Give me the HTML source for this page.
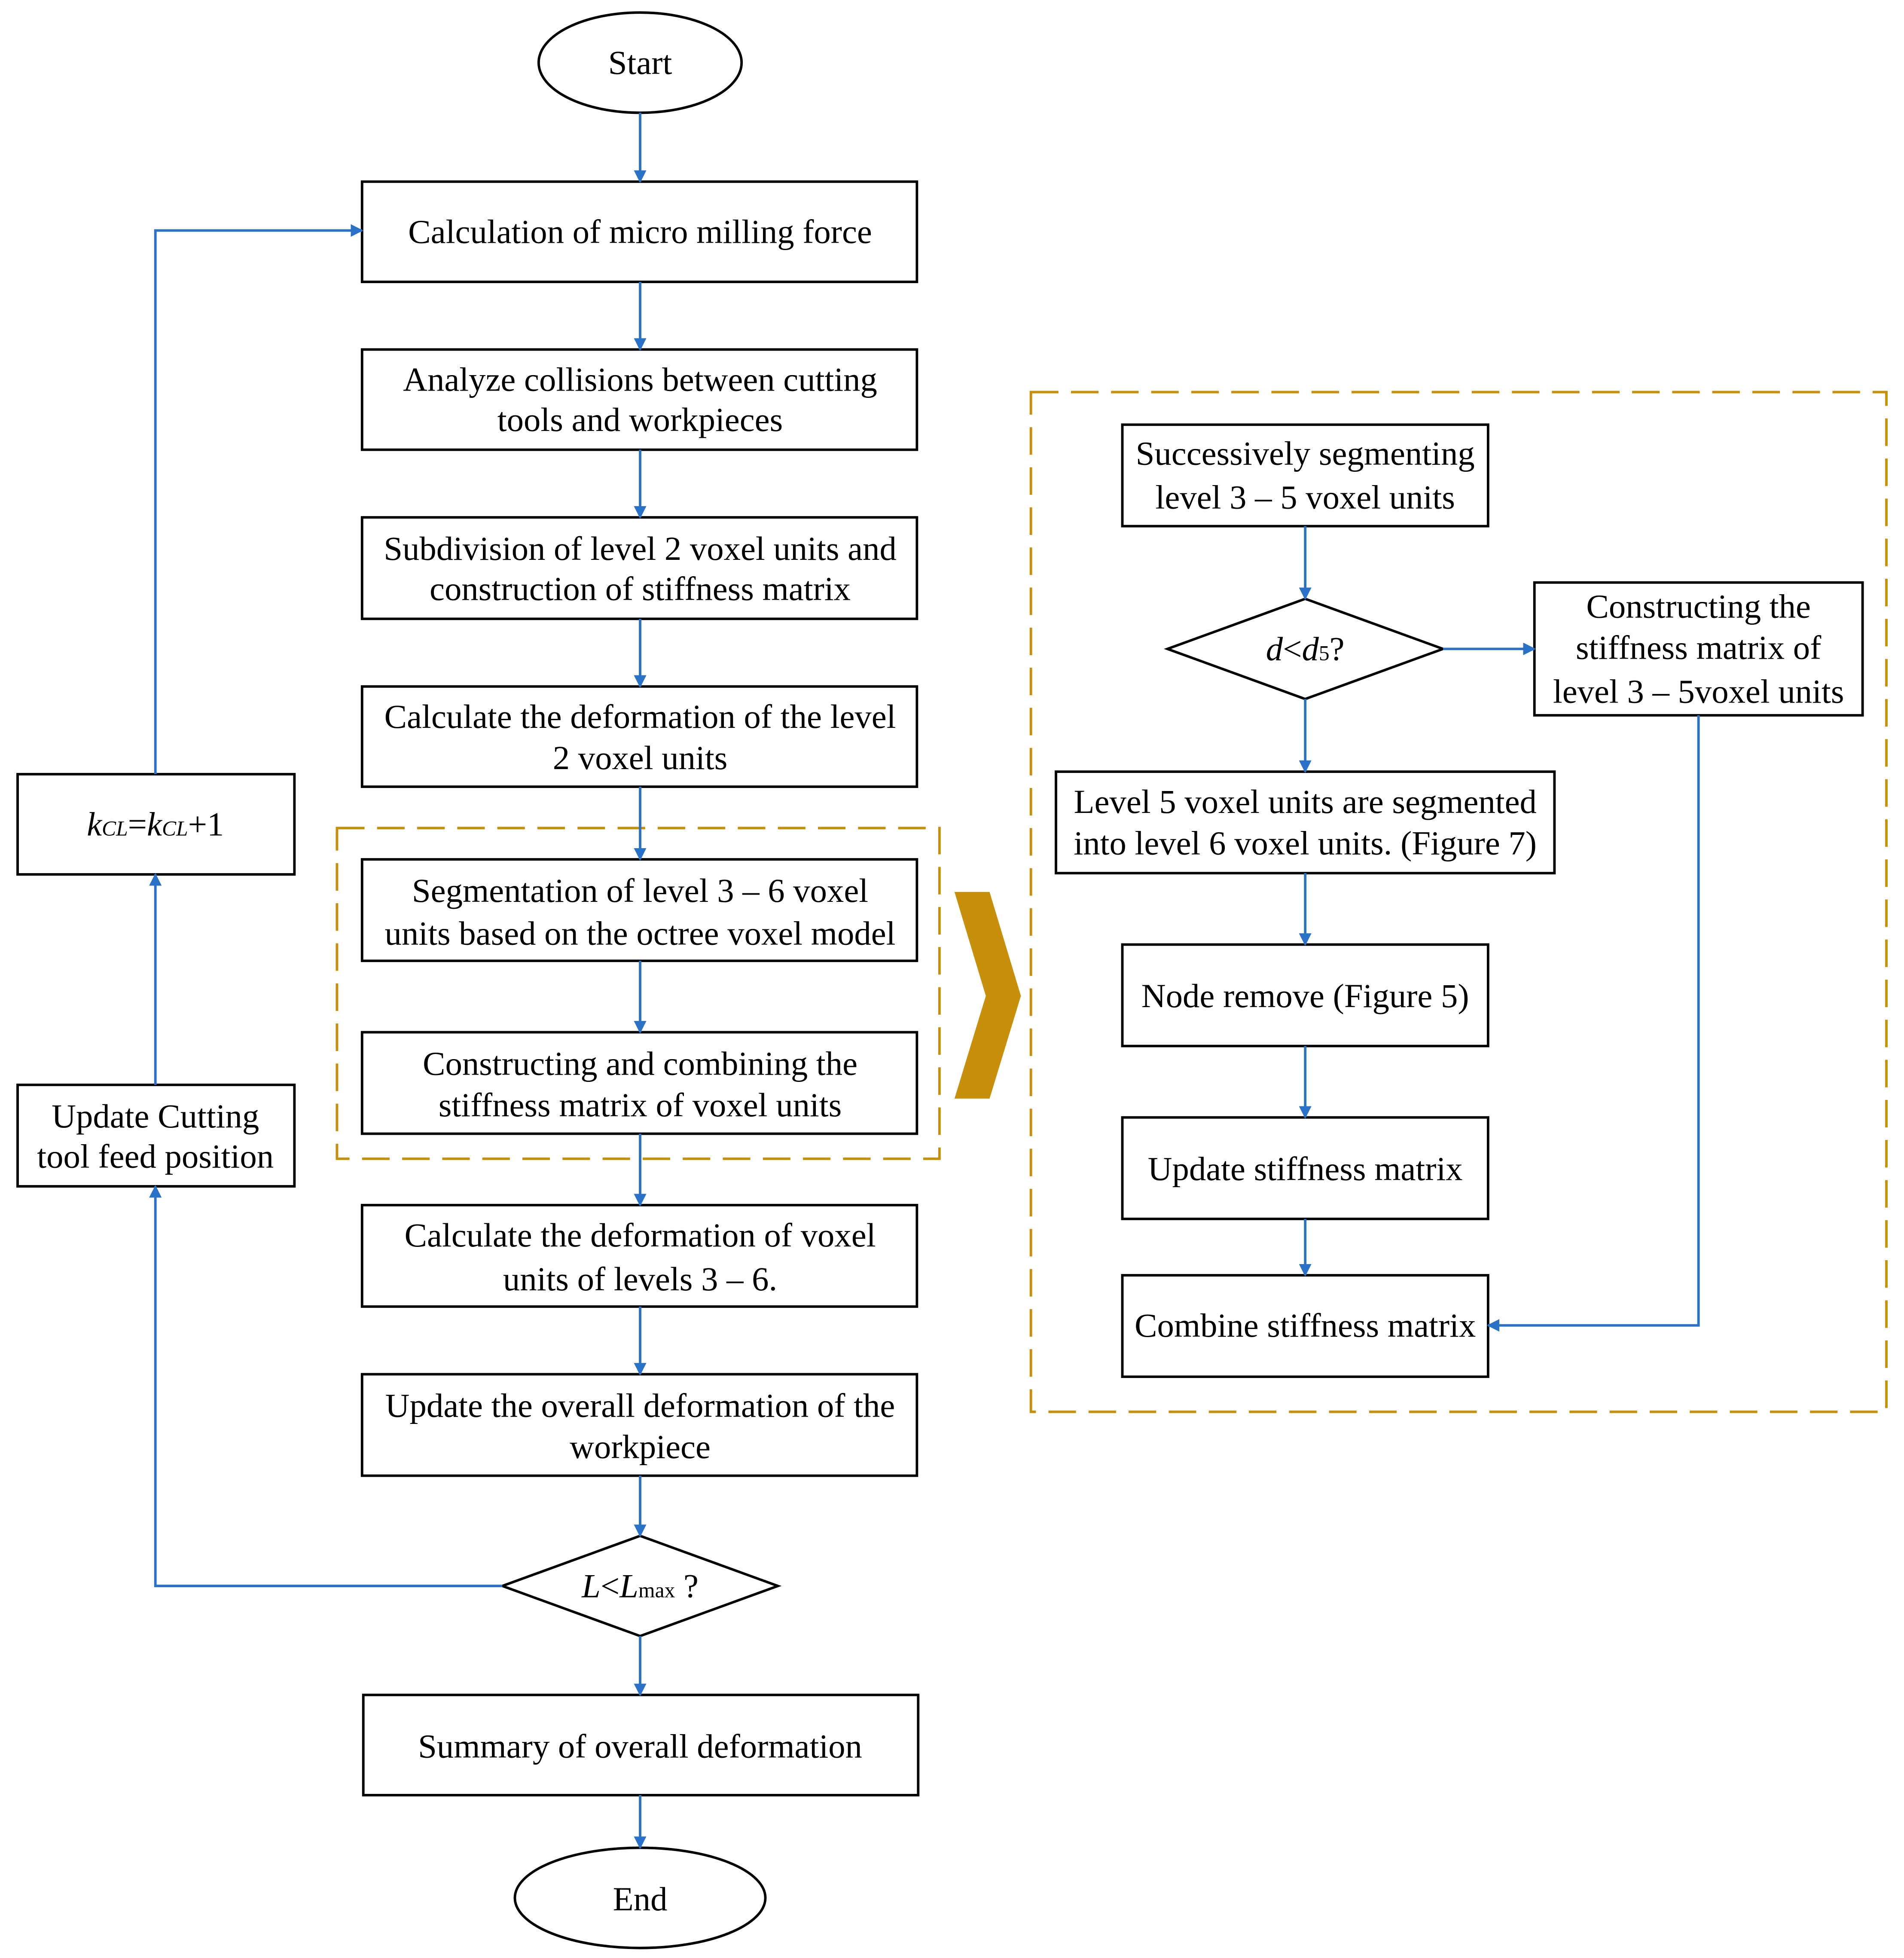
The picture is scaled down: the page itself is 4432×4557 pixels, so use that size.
<!DOCTYPE html>
<html><head><meta charset="utf-8"><style>
html,body{margin:0;padding:0;background:#fff;}
svg{display:block;}
text{font-family:"Liberation Serif",serif;font-size:27px;fill:#000;}
</style></head><body>
<svg width="4432" height="4557" viewBox="0 0 1520 1563" xmlns="http://www.w3.org/2000/svg">
<defs>
<marker id="a" markerWidth="10" markerHeight="10" refX="9" refY="5" orient="auto" markerUnits="userSpaceOnUse">
<path d="M0,0 L10,5 L0,10 Z" fill="#2a72c8"/></marker>
</defs>
<rect width="1520" height="1563" fill="#fff"/>
<g fill="none" stroke="#000" stroke-width="2">
<ellipse cx="511" cy="50" rx="81" ry="40"/>
<rect x="289" y="145" width="443" height="80"/>
<rect x="289" y="279" width="443" height="80"/>
<rect x="289" y="413" width="443" height="81"/>
<rect x="289" y="548" width="443" height="80"/>
<rect x="289" y="686" width="443" height="81"/>
<rect x="289" y="824" width="443" height="81"/>
<rect x="289" y="962" width="443" height="81"/>
<rect x="289" y="1097" width="443" height="81"/>
<polygon points="401,1266 511,1226 621,1266 511,1306"/>
<rect x="290" y="1353" width="443" height="80"/>
<ellipse cx="511" cy="1515" rx="100" ry="40"/>
<rect x="14" y="618" width="221" height="80"/>
<rect x="14" y="866" width="221" height="81"/>
<rect x="896" y="339" width="292" height="81"/>
<polygon points="932,518 1042,478 1152,518 1042,558"/>
<rect x="1225" y="465" width="262" height="106"/>
<rect x="843" y="616" width="398" height="81"/>
<rect x="896" y="754" width="292" height="81"/>
<rect x="896" y="892" width="292" height="81"/>
<rect x="896" y="1018" width="292" height="81"/>
</g>
<g fill="none" stroke="#c8900a" stroke-width="2" stroke-dasharray="22,10">
<rect x="269" y="661" width="481" height="264"/>
<rect x="823" y="313" width="683" height="814"/>
</g>
<polygon points="762,712 790,712 815,795 790,877 762,877 787,795" fill="#c8900a"/>
<g fill="none" stroke="#2a72c8" stroke-width="2" marker-end="url(#a)">
<line x1="511" y1="90" x2="511" y2="145"/>
<line x1="511" y1="225" x2="511" y2="279"/>
<line x1="511" y1="359" x2="511" y2="413"/>
<line x1="511" y1="494" x2="511" y2="548"/>
<line x1="511" y1="628" x2="511" y2="686"/>
<line x1="511" y1="767" x2="511" y2="824"/>
<line x1="511" y1="905" x2="511" y2="962"/>
<line x1="511" y1="1043" x2="511" y2="1097"/>
<line x1="511" y1="1178" x2="511" y2="1226"/>
<line x1="511" y1="1306" x2="511" y2="1353"/>
<line x1="511" y1="1433" x2="511" y2="1475"/>
<polyline points="401,1266 124,1266 124,947"/>
<line x1="124" y1="866" x2="124" y2="698"/>
<polyline points="124,618 124,184 289,184"/>
<line x1="1042" y1="420" x2="1042" y2="478"/>
<line x1="1152" y1="518" x2="1225" y2="518"/>
<line x1="1042" y1="558" x2="1042" y2="616"/>
<line x1="1042" y1="697" x2="1042" y2="754"/>
<line x1="1042" y1="835" x2="1042" y2="892"/>
<line x1="1042" y1="973" x2="1042" y2="1018"/>
<polyline points="1356,571 1356,1058 1188,1058"/>
</g>
<g text-anchor="middle">
<text x="511" y="59">Start</text>
<text x="511" y="194">Calculation of micro milling force</text>
<text x="511" y="312">Analyze collisions between cutting</text>
<text x="511" y="344">tools and workpieces</text>
<text x="511" y="447">Subdivision of level 2 voxel units and</text>
<text x="511" y="479">construction of stiffness matrix</text>
<text x="511" y="581">Calculate the deformation of the level</text>
<text x="511" y="614">2 voxel units</text>
<text x="511" y="720">Segmentation of  level 3 – 6 voxel</text>
<text x="511" y="754">units based on the octree voxel model</text>
<text x="511" y="858">Constructing and combining the</text>
<text x="511" y="891">stiffness matrix of voxel units</text>
<text x="511" y="995">Calculate the deformation of voxel</text>
<text x="511" y="1030">units of levels 3 – 6.</text>
<text x="511" y="1131">Update the overall deformation of the</text>
<text x="511" y="1164">workpiece</text>
<text x="511" y="1275"><tspan font-style="italic">L</tspan>&lt;<tspan font-style="italic">L</tspan><tspan font-size="17">max</tspan> ?</text>
<text x="511" y="1403">Summary of overall deformation</text>
<text x="511" y="1525">End</text>
<text x="124" y="667"><tspan font-style="italic">k</tspan><tspan font-style="italic" font-size="17">CL</tspan>=<tspan font-style="italic">k</tspan><tspan font-style="italic" font-size="17">CL</tspan>+1</text>
<text x="124" y="900">Update Cutting</text>
<text x="124" y="932">tool feed position</text>
<text x="1042" y="371">Successively segmenting</text>
<text x="1042" y="406">level 3 – 5 voxel units</text>
<text x="1042" y="527"><tspan font-style="italic">d</tspan>&lt;<tspan font-style="italic">d</tspan><tspan font-size="17">5</tspan>?</text>
<text x="1356" y="493">Constructing the</text>
<text x="1356" y="526">stiffness matrix  of</text>
<text x="1356" y="561">level 3 – 5voxel units</text>
<text x="1042" y="649">Level 5 voxel units are segmented</text>
<text x="1042" y="682">into level 6 voxel units. (Figure 7)</text>
<text x="1042" y="804">Node remove (Figure 5)</text>
<text x="1042" y="942">Update stiffness matrix</text>
<text x="1042" y="1067">Combine stiffness matrix</text>
</g>
</svg>
</body></html>
